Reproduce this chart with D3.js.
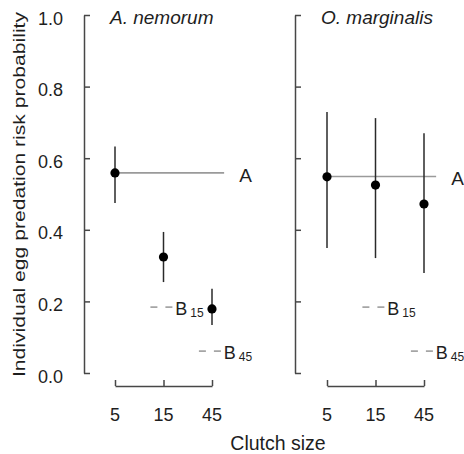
<!DOCTYPE html>
<html>
<head>
<meta charset="utf-8">
<script src="https://cdn.jsdelivr.net/npm/d3@7"></script>
<style>
  body { margin: 0; background: #fff; }
  text { font-family: "Liberation Sans", Arial, sans-serif; fill: #1e1e1e; }
</style>
</head>
<body>
<svg id="chart" width="464" height="454"></svg>
<script>
// Clutch-size categories and per-species estimates (mean with interval)
const clutchSizes = ["5", "15", "45"];
const speciesNames = ["A. nemorum", "O. marginalis"];
const nemorumMean  = [0.559, 0.324, 0.179];
const nemorumLower = [0.475, 0.254, 0.134];
const nemorumUpper = [0.633, 0.394, 0.235];
const marginalisMean  = [0.548, 0.525, 0.472];
const marginalisLower = [0.349, 0.321, 0.279];
const marginalisUpper = [0.729, 0.712, 0.670];
// Model predictions: A (constant) and B for clutch sizes 15 and 45
const predictionA   = [0.559, 0.549];
const predictionB15 = [0.184, 0.184];
const predictionB45 = [0.061, 0.061];
const yTicks = [0, 0.2, 0.4, 0.6, 0.8, 1.0];

const svg = d3.select("#chart");
const y = d3.scaleLinear().domain([0, 1]).range([373, 15]);

const panels = [
  { name: speciesNames[0], axisX: 84,  range: [115, 212], mean: nemorumMean, lo: nemorumLower, hi: nemorumUpper },
  { name: speciesNames[1], axisX: 295, range: [327, 424], mean: marginalisMean, lo: marginalisLower, hi: marginalisUpper }
];

const axisColor = "#474747";

panels.forEach((p, i) => {
  const x = d3.scalePoint().domain(clutchSizes).range(p.range);
  const step = x.step();
  const g = svg.append("g");

  // y axis with inward ticks
  const yAxis = g.append("g")
    .attr("transform", `translate(${p.axisX},0)`)
    .call(d3.axisRight(y).tickValues(yTicks).tickSize(6).tickSizeOuter(0).tickFormat(""));
  yAxis.selectAll("path, line").attr("stroke", axisColor).attr("stroke-width", 1.5);

  if (i === 0) {
    g.selectAll(".ylab").data(yTicks).join("text")
      .attr("x", 63).attr("y", d => y(d) + 9.5)
      .attr("text-anchor", "end").attr("font-size", 18)
      .text(d => d.toFixed(1));
  }

  // x axis with upward ticks
  const xAxis = g.append("g")
    .attr("transform", "translate(0,386)")
    .call(d3.axisTop(x).tickSize(6).tickSizeOuter(0).tickFormat(""));
  xAxis.selectAll("path, line").attr("stroke", axisColor).attr("stroke-width", 1.5);
  g.selectAll(".xlab").data(clutchSizes).join("text")
    .attr("x", d => x(d)).attr("y", 421)
    .attr("text-anchor", "middle").attr("font-size", 18)
    .text(d => d);

  // species title
  g.append("text")
    .attr("x", p.axisX + 26).attr("y", 24)
    .attr("font-size", 19).attr("font-style", "italic")
    .text(p.name);

  // prediction A line
  const aEnd = x("45") + 0.25 * step;
  g.append("line")
    .attr("x1", x("5")).attr("x2", aEnd)
    .attr("y1", y(predictionA[i])).attr("y2", y(predictionA[i]))
    .attr("stroke", "#9a9a9a").attr("stroke-width", 1.6);
  g.append("text")
    .attr("x", aEnd + 15).attr("y", y(predictionA[i]) + 9)
    .attr("font-size", 19).text("A");

  // prediction B dashes with subscripted labels
  [["15", predictionB15[i]], ["45", predictionB45[i]]].forEach(([c, v]) => {
    const x1 = x(c) - 0.27 * step, x2 = x(c) + 0.2 * step;
    g.append("line")
      .attr("x1", x1).attr("x2", x2).attr("y1", y(v)).attr("y2", y(v))
      .attr("stroke", "#a5a5a5").attr("stroke-width", 1.6)
      .attr("stroke-dasharray", "7,8");
    const t = g.append("text")
      .attr("x", x2 + 2).attr("y", y(v) + 8)
      .attr("font-size", 18);
    t.append("tspan").text("B");
    t.append("tspan").attr("dx", 3).attr("dy", 2).attr("font-size", 12).text(c);
  });

  // interval bars and means
  g.selectAll(".err").data(clutchSizes).join("line")
    .attr("x1", d => x(d)).attr("x2", d => x(d))
    .attr("y1", (d, k) => y(p.hi[k])).attr("y2", (d, k) => y(p.lo[k]))
    .attr("stroke", "#2a2a2a").attr("stroke-width", 1.5);
  g.selectAll(".pt").data(clutchSizes).join("circle")
    .attr("cx", d => x(d)).attr("cy", (d, k) => y(p.mean[k]))
    .attr("r", 4.6).attr("fill", "#000");
});

// axis titles
svg.append("text")
  .attr("x", 278).attr("y", 450)
  .attr("text-anchor", "middle").attr("font-size", 19.5)
  .text("Clutch size");
svg.append("text")
  .attr("transform", "translate(25,194.5) rotate(-90)")
  .attr("text-anchor", "middle").attr("font-size", 17)
  .attr("textLength", 365).attr("lengthAdjust", "spacingAndGlyphs")
  .text("Individual egg predation risk probability");
</script>
</body>
</html>
